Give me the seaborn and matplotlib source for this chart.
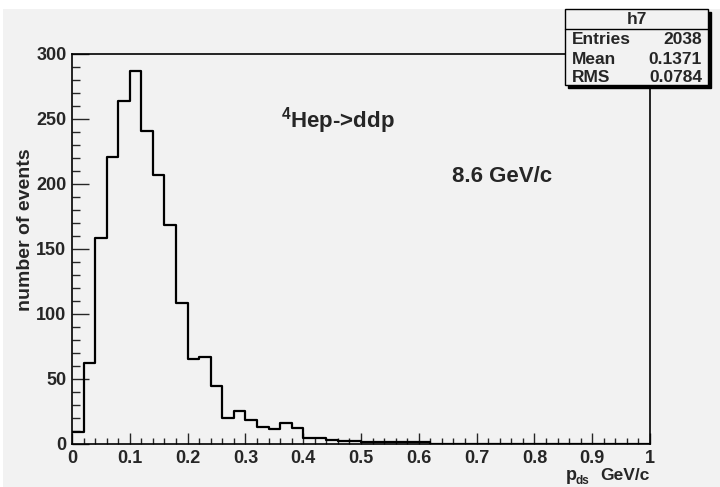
import numpy as np
import pandas as pd
import matplotlib
matplotlib.use("Agg")
import matplotlib.pyplot as plt
import seaborn as sns
from matplotlib.patches import Rectangle
from matplotlib.lines import Line2D
from matplotlib.ticker import MultipleLocator

# ---- data ----
bin_width = 0.02
bin_range = (0.0, 1.0)
counts = [9, 62, 158, 221, 264, 287, 241, 207, 168, 108,
          65, 67, 44, 20, 25, 18, 13, 11, 16, 12,
          4, 4, 3, 2, 2, 1, 1, 1, 1, 1,
          1, 0, 0, 0, 0, 0, 0, 0, 0, 0,
          0, 0, 0, 0, 0, 0, 0, 0, 0, 0]
stats_title = "h7"
stats_labels = ["Entries", "Mean", "RMS"]
stats_values = ["2038", "0.1371", "0.0784"]
y_label = "number of events"
x_label_main = "p"
x_label_sub = "ds"
x_label_unit = "GeV/c"
reaction_text = r"$^{\mathregular{4}}$Hep->ddp"
momentum_text = "8.6 GeV/c"
x_tick_labels = ["0", "0.1", "0.2", "0.3", "0.4", "0.5", "0.6", "0.7", "0.8", "0.9", "1"]

centers = bin_range[0] + bin_width * (np.arange(len(counts)) + 0.5)
df = pd.DataFrame({"p": centers, "n": counts})

# ---- style ----
sns.set_style("ticks")
BG = "#f2f2f2"
plt.rcParams["font.family"] = ["Liberation Sans", "DejaVu Sans"]
plt.rcParams["font.weight"] = "bold"
plt.rcParams["mathtext.fontset"] = "custom"
plt.rcParams["mathtext.rm"] = "Liberation Sans:bold"
plt.rcParams["mathtext.it"] = "Liberation Sans:bold"
plt.rcParams["mathtext.bf"] = "Liberation Sans:bold"

W, H = 720, 487
fig = plt.figure(figsize=(W / 100, H / 100), dpi=100, facecolor="white")

def fx(x):
    return x / W

def fy(y):
    return 1 - y / H

# gray canvas
fig.add_artist(Rectangle((fx(3), 0), 1 - fx(3), fy(9), transform=fig.transFigure,
                         facecolor=BG, edgecolor="none", zorder=-10))

ax = fig.add_axes([fx(72), fy(443.5), fx(650) - fx(72), fy(54) - fy(443.5)])
ax.set_facecolor(BG)

sns.histplot(data=df, x="p", weights="n", binwidth=bin_width, binrange=bin_range,
             element="step", fill=False, color="black", linewidth=1.6, ax=ax)

ax.set_xlim(0, 1)
ax.set_ylim(0, 300)
ax.set_xlabel("")
ax.set_ylabel("")
ax.set_xticks(np.linspace(0, 1, len(x_tick_labels)))
ax.set_xticklabels(x_tick_labels)
ax.xaxis.set_minor_locator(MultipleLocator(0.02))
ax.yaxis.set_major_locator(MultipleLocator(50))
ax.yaxis.set_minor_locator(MultipleLocator(10))
ax.tick_params(axis="x", which="major", direction="in", length=8, width=1,
               labelsize=13, pad=4.5, top=False)
ax.tick_params(axis="x", which="minor", direction="in", length=4.3, width=1, top=False)
ax.tick_params(axis="y", which="major", direction="in", length=12, width=1,
               labelsize=13, pad=4, right=False)
ax.tick_params(axis="y", which="minor", direction="in", length=5.8, width=1, right=False)
for lab in ax.get_xticklabels() + ax.get_yticklabels():
    lab.set_fontweight("bold")
for s in ax.spines.values():
    s.set_color("black")
    s.set_linewidth(1.2)
    s.set_visible(True)

# texts
fig.text(fx(26), fy(230), y_label, rotation=90, ha="center", va="center",
         fontsize=14, fontweight="bold")
fig.text(fx(650), fy(480), x_label_unit, ha="right", va="baseline",
         fontsize=12.5, fontweight="bold")
fig.text(fx(566), fy(480), x_label_main, ha="left", va="baseline",
         fontsize=13, fontweight="bold")
fig.text(fx(576), fy(483.5), x_label_sub, ha="left", va="baseline",
         fontsize=8.5, fontweight="bold")
fig.text(fx(281), fy(128), reaction_text, ha="left", va="baseline",
         fontsize=16, fontweight="bold")
fig.text(fx(452), fy(182), momentum_text, ha="left", va="baseline",
         fontsize=16, fontweight="bold")

# stats box
bx0, bx1, by0, by1 = 565, 708, 9, 85
fig.add_artist(Rectangle((fx(bx0 + 3), fy(by1 + 3)), fx(bx1) - fx(bx0), fy(by0) - fy(by1),
                         transform=fig.transFigure, facecolor="black",
                         edgecolor="black", zorder=5))
fig.add_artist(Rectangle((fx(bx0), fy(by1)), fx(bx1) - fx(bx0), fy(by0) - fy(by1),
                         transform=fig.transFigure, facecolor=BG,
                         edgecolor="black", linewidth=1.0, zorder=6))
fig.add_artist(Line2D([fx(bx0), fx(bx1)], [fy(29), fy(29)], transform=fig.transFigure,
                      color="black", linewidth=1.0, zorder=7))
fig.text(fx((bx0 + bx1) / 2), fy(20), stats_title, ha="center", va="center",
         fontsize=12.5, fontweight="bold", zorder=8)
row_y = [39, 59, 78]
for yy, lab, val in zip(row_y, stats_labels, stats_values):
    fig.text(fx(572), fy(yy), lab, ha="left", va="center", fontsize=12.5,
             fontweight="bold", zorder=8)
    fig.text(fx(702), fy(yy), val, ha="right", va="center", fontsize=12.5,
             fontweight="bold", zorder=8)

fig.savefig("out.png", dpi=100, facecolor=fig.get_facecolor())
